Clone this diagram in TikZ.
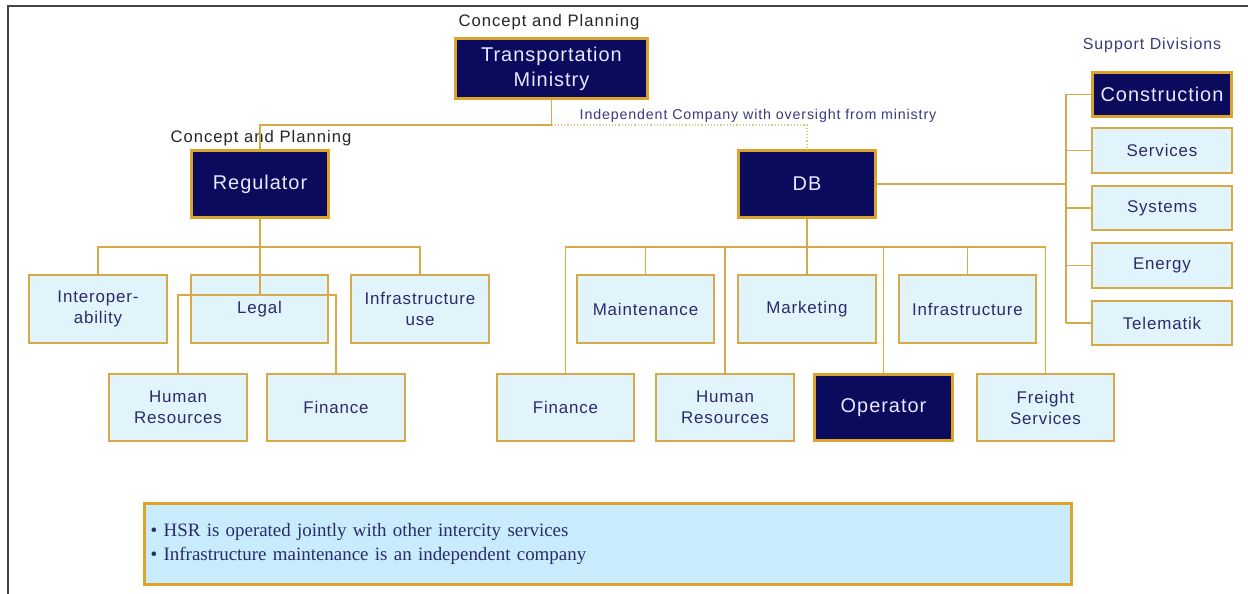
\documentclass[tikz,border=0pt]{standalone}
\usepackage{fontspec}
\setmainfont{Liberation Serif}
\newfontfamily\lblfont[LetterSpace=5]{Liberation Sans}
\newfontfamily\smallfont[LetterSpace=6]{Liberation Sans}
\definecolor{gold}{HTML}{D6AA48}
\definecolor{darkgold}{HTML}{DBA22E}
\definecolor{navy}{HTML}{0B0B5E}
\definecolor{lightbox}{HTML}{E2F4FB}
\definecolor{notefill}{HTML}{C8ECFB}
\definecolor{boxtext}{HTML}{2B2B6B}
\definecolor{darktext}{HTML}{E8E8FF}
\definecolor{labelblue}{HTML}{3A3A7E}
\definecolor{framegray}{HTML}{444444}
\tikzset{
  lightnode/.style={draw=gold, line width=2, fill=lightbox, text=boxtext,
    minimum width=138, minimum height=68, inner sep=0, align=center,
    font=\lblfont\fontsize{17}{21}\selectfont},
  darknode/.style={draw=darkgold, line width=3, fill=navy, text=darktext,
    minimum width=138, minimum height=68, inner sep=0, align=center,
    font=\lblfont\fontsize{20}{25}\selectfont},
  sidenode/.style={lightnode, minimum width=140, minimum height=45},
  conn/.style={draw=gold, line width=1.6},
  trunk/.style={draw=gold, line width=2.6},
  toplabel/.style={inner sep=0, text=black!85, font=\smallfont\fontsize{16.7}{19}\selectfont},
  bluelabel/.style={inner sep=0, text=labelblue, font=\smallfont\fontsize{14.3}{17}\selectfont},
}
\begin{document}
\begin{tikzpicture}[x=1bp, y=-1bp]
\useasboundingbox (0,0) rectangle (1248,594);
\fill[white] (0,0) rectangle (1248,594);
% frame
\draw[framegray, line width=2] (1248,6) -- (8,6) -- (8,594);

% labels
\node[toplabel] (cp1) at (549,22) {Concept and Planning};
\node[toplabel] (cp2) at (261,138) {Concept and Planning};
\node[bluelabel, font=\smallfont\fontsize{16}{18}\selectfont] (sd) at (1152,45) {Support Divisions};
\node[bluelabel] (ind) at (758,116) {Independent Company with oversight from ministry};

% top level
\node[darknode, minimum width=193, minimum height=61] (mini) at (551.5,68.5) {Transportation\\Ministry};
\node[darknode] (reg) at (260,184) {Regulator};
\node[darknode] (db) at (807,184) {DB};

% support divisions
\node[darknode, minimum width=140, minimum height=45] (cons) at (1162,94.5) {Construction};
\node[sidenode] (serv) at (1162,150.5) {Services};
\node[sidenode] (syst) at (1162,208) {Systems};
\node[sidenode] (ener) at (1162,265.5) {Energy};
\node[sidenode] (tele) at (1162,323) {Telematik};

% regulator children
\node[lightnode] (inter) at (98,309) {Interoper-\\ability};
\node[lightnode] (legal) at (259.5,309) {Legal};
\node[lightnode] (infu) at (420,309) {Infrastructure\\use};
\node[lightnode, minimum height=67] (hr1) at (178,407.5) {Human\\Resources};
\node[lightnode, minimum height=67] (fin1) at (336,407.5) {Finance};

% DB children
\node[lightnode] (main) at (645.5,309) {Maintenance};
\node[lightnode] (mark) at (807,309) {Marketing};
\node[lightnode] (infr) at (967.5,309) {Infrastructure};
\node[lightnode, minimum height=67] (fin2) at (565.5,407.5) {Finance};
\node[lightnode, minimum height=67] (hr2) at (725,407.5) {Human\\Resources};
\node[darknode, minimum height=67] (oper) at (883.5,407.5) {Operator};
\node[lightnode, minimum height=67] (frei) at (1045.5,407.5) {Freight\\Services};

% note
\node[draw=darkgold, line width=3, fill=notefill, text=boxtext,
  minimum width=930, minimum height=82, text width=918, inner xsep=6,
  align=left, font=\fontsize{19}{25}\selectfont] (note) at (608,544)
  {• HSR is operated jointly with other intercity services\\
   • Infrastructure maintenance is an independent company};

% connectors
\coordinate (j1) at (551.5,125);
\coordinate (rbus) at (260,247);
\coordinate (rlow) at (260,295);
\coordinate (dbus) at (807,247);
\coordinate (sbus) at (1066,184);

\draw[conn] (mini.south) -- (j1) -| (reg.north);
\draw[draw=gold!70, line width=1.2, dotted] (j1) -| (db.north);

\draw[trunk] (reg.south) -- (rlow);
\draw[conn] (inter.north) |- (rbus) -| (infu.north);
\draw[conn] (hr1.north) |- (rlow) -| (fin1.north);

\draw[trunk] (db.south) -- (dbus);
\draw[conn] (fin2.north) |- (dbus) -| (frei.north);
\draw[conn] (main.north) -- (main.north |- dbus);
\draw[conn] (hr2.north) -- (hr2.north |- dbus);
\draw[conn] (mark.north) -- (mark.north |- dbus);
\draw[conn] (oper.north) -- (oper.north |- dbus);
\draw[conn] (infr.north) -- (infr.north |- dbus);

\draw[trunk] (db.east) -- (sbus);
\draw[conn] (cons.west -| sbus) -- (tele.west -| sbus);
\draw[conn] (cons.west) -- (cons.west -| sbus);
\draw[conn] (serv.west) -- (serv.west -| sbus);
\draw[conn] (syst.west) -- (syst.west -| sbus);
\draw[conn] (ener.west) -- (ener.west -| sbus);
\draw[conn] (tele.west) -- (tele.west -| sbus);
\end{tikzpicture}
\end{document}
